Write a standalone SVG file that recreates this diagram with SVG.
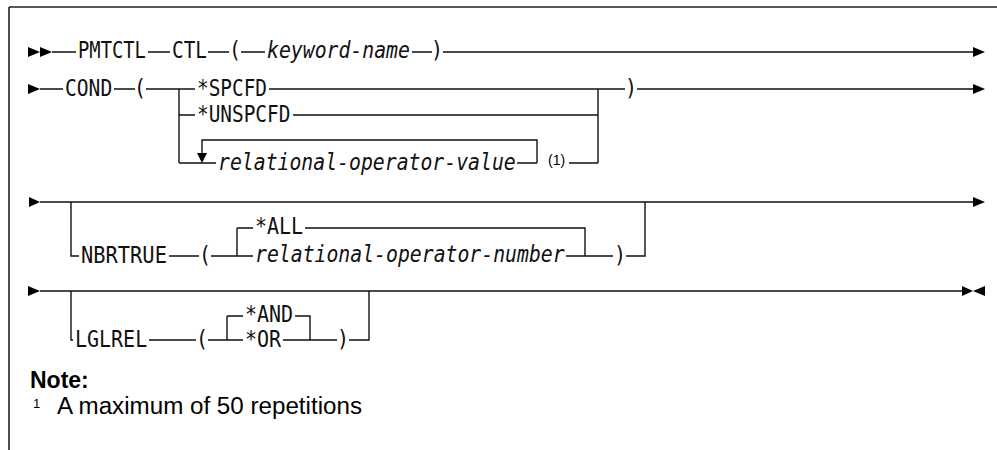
<svg xmlns="http://www.w3.org/2000/svg" width="997" height="450" viewBox="0 0 997 450">
<style>
.t{font-family:"DejaVu Sans Mono","Liberation Mono",monospace;font-size:20px;fill:#111}
.i{font-family:"DejaVu Sans Mono","Liberation Mono",monospace;font-size:20px;font-style:italic;fill:#111}
.p{font-family:"DejaVu Sans Mono","Liberation Mono",monospace;font-size:20px;fill:#111;text-anchor:middle}
.ln{stroke:#111;stroke-width:1.4;fill:none}
.fr{stroke:#222;stroke-width:1.6;fill:none}
.ar{fill:#000}
.nb{font-family:"Liberation Sans",Arial,sans-serif;font-size:23px;font-weight:bold;fill:#000}
.nt{font-family:"Liberation Sans",Arial,sans-serif;font-size:23px;fill:#000}
.sm{font-family:"Liberation Sans",Arial,sans-serif;font-size:14px;fill:#000}
.fn{font-family:"Liberation Sans",Arial,sans-serif;font-size:13px;fill:#000}
</style>
<rect width="997" height="450" fill="#fff"/>
<g id="frame">
<path class="fr" d="M9 7H997M9 7V450"/>
</g>
<g id="connectors">
<path class="ln" d="M52 52H76M148 52H170M208 52H229M241 52H265M412 52H432M443 52H975"/>
<polygon class="ar" points="28,47 40,52 28,57"/>
<polygon class="ar" points="40,47 52,52 40,57"/>
<polygon class="ar" points="973,47 985,52 973,57"/>
<path class="ln" d="M40 89H63M114 89H135M146 89H195M269 89H598M179 89V163M179 115H195M293 115H598M179 163H216M517 163H537M569 163H598M598 89V163M598 89H625M637 89H975"/>
<path class="ln" d="M202 155V140H537V163"/>
<polygon class="ar" points="28,84 40,89 28,94"/>
<polygon class="ar" points="197,153 207,153 202,163"/>
<polygon class="ar" points="973,84 985,89 973,94"/>
<path class="ln" d="M40 202H975M71 202V256H79M169 256H199M211 256H253M237 228V256M237 228H253M305 228H585V256M566 256H613M626 256H645V202"/>
<polygon class="ar" points="29,197 40,202 29,207"/>
<polygon class="ar" points="973,197 985,202 973,207"/>
<path class="ln" d="M40 291H964M71 291V340H73M149 340H196M208 340H243M227 316V340M227 316H243M295 316H310V340M283 340H337M349 340H369V291"/>
<polygon class="ar" points="28,286 40,291 28,296"/>
<polygon class="ar" points="962,286 973,291 962,296"/>
<polygon class="ar" points="985,286 973,291 985,296"/>
</g>
<g id="n-pmtctl"><text class="t" transform="translate(78,58) scale(0.94,1.16)">PMTCTL</text></g>
<g id="n-ctl"><text class="t" transform="translate(172,58) scale(0.97,1.16)">CTL</text></g>
<g id="n-lp1"><text class="p" transform="translate(235,58) scale(1,1.16)">(</text></g>
<g id="n-keyword"><text class="i" transform="translate(267,58) scale(0.99,1.16)">keyword-name</text></g>
<g id="n-rp1"><text class="p" transform="translate(437,58) scale(1,1.16)">)</text></g>
<g id="n-cond"><text class="t" transform="translate(65,96) scale(0.98,1.16)">COND</text></g>
<g id="n-lp2"><text class="p" transform="translate(140,96) scale(1,1.16)">(</text></g>
<g id="n-spcfd"><text class="t" transform="translate(197,96) scale(0.97,1.16)">*SPCFD</text></g>
<g id="n-unspcfd"><text class="t" transform="translate(197,122) scale(0.97,1.16)">*UNSPCFD</text></g>
<g id="n-relval"><text class="i" transform="translate(218,170) scale(0.99,1.16)">relational-operator-value</text></g>
<g id="n-fn1"><text class="sm" x="548" y="165">(1)</text></g>
<g id="n-rp2"><text class="p" transform="translate(631,96) scale(1,1.16)">)</text></g>
<g id="n-nbrtrue"><text class="t" transform="translate(81,263) scale(1.02,1.16)">NBRTRUE</text></g>
<g id="n-lp3"><text class="p" transform="translate(205,263) scale(1,1.16)">(</text></g>
<g id="n-all"><text class="t" transform="translate(255,234) scale(1,1.16)">*ALL</text></g>
<g id="n-relnum"><text class="i" transform="translate(255,262) scale(0.99,1.16)">relational-operator-number</text></g>
<g id="n-rp3"><text class="p" transform="translate(620,263) scale(1,1.16)">)</text></g>
<g id="n-lglrel"><text class="t" transform="translate(75,347) scale(1.0,1.16)">LGLREL</text></g>
<g id="n-lp4"><text class="p" transform="translate(202,347) scale(1,1.16)">(</text></g>
<g id="n-and"><text class="t" transform="translate(245,322) scale(1,1.16)">*AND</text></g>
<g id="n-or"><text class="t" transform="translate(245,347) scale(1,1.16)">*OR</text></g>
<g id="n-rp4"><text class="p" transform="translate(343,347) scale(1,1.16)">)</text></g>
<g id="note">
<text class="nb" x="30" y="388">Note:</text>
<text class="fn" x="33" y="408">1</text>
<text class="nt" x="57" y="414" textLength="305" lengthAdjust="spacingAndGlyphs">A maximum of 50 repetitions</text>
</g>
</svg>
